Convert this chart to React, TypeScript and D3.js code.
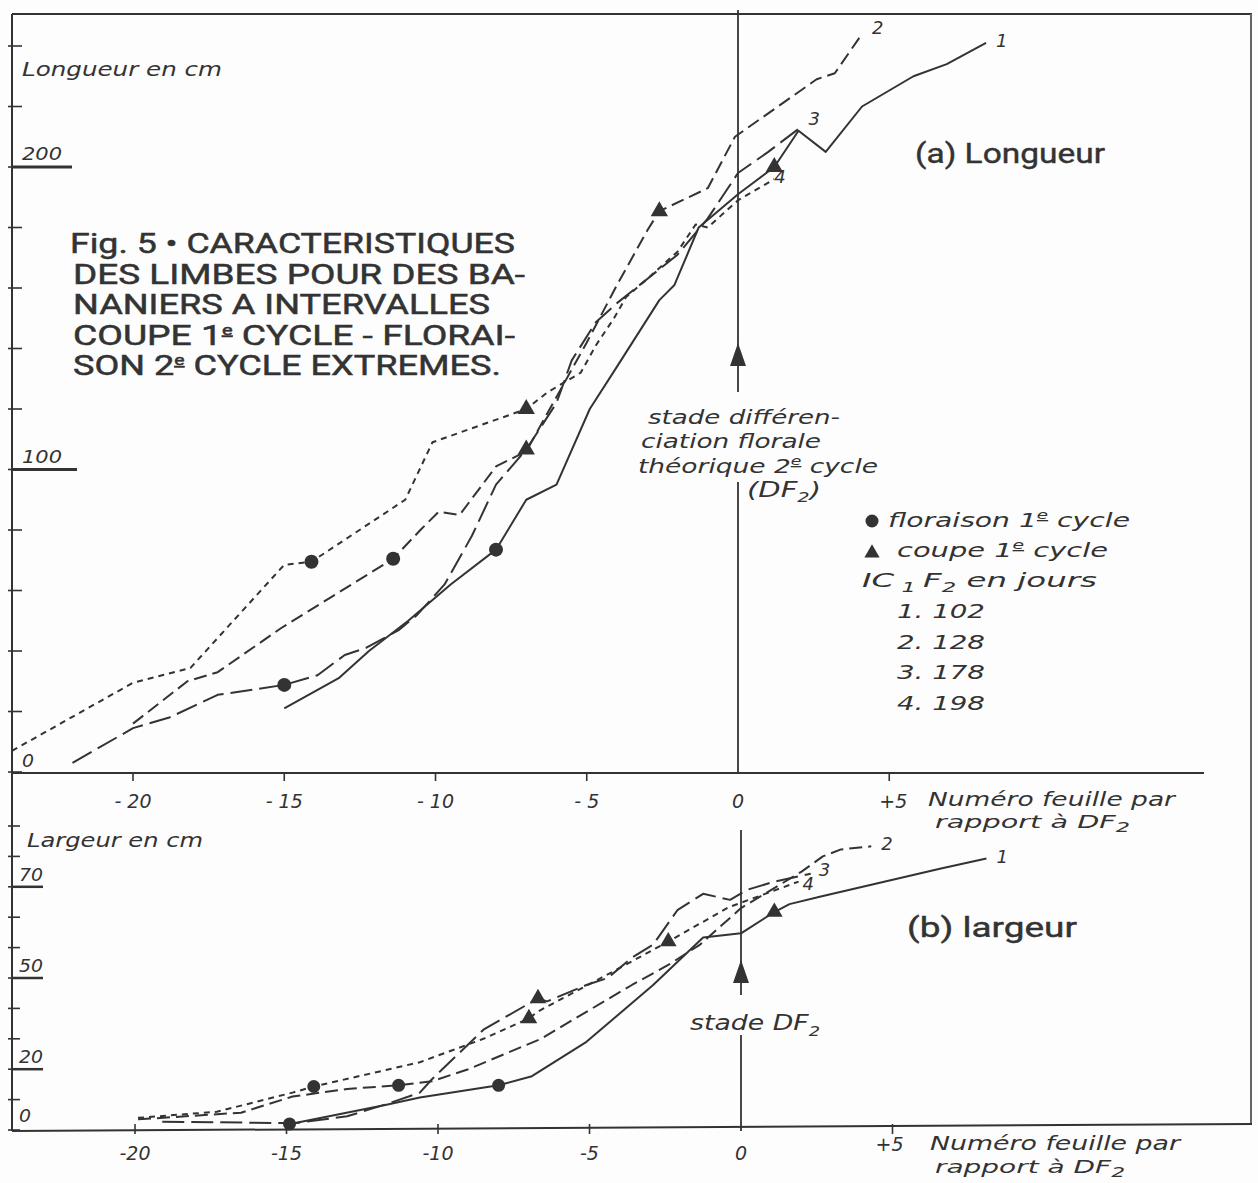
import React from 'react';
import * as d3 from 'd3';

// leaf number relative to DF2 -> length (cm), one array per curve
const longueur1 = [[-15, 21], [-13.2, 31], [-12.2, 40], [-10.9, 50], [-9.5, 62], [-8, 73.5], [-7, 90], [-6, 95], [-4.9, 120], [-4, 134], [-2.6, 156], [-2.1, 161], [-1.3, 180], [0, 191], [1.2, 200], [2, 212], [2.9, 205], [4.1, 220], [5.8, 230], [6.9, 234], [8.2, 241]];
const longueur2 = [[-20, 16], [-18.2, 30], [-17.2, 33], [-15.1, 47.6], [-11.4, 70.5], [-10.5, 80], [-9.9, 86], [-9.2, 85], [-8, 101], [-7, 106], [-6, 124], [-5, 142], [-4, 161], [-3, 179], [-2.6, 185.4], [-1, 193], [-0.1, 210], [2.6, 229], [3.2, 231], [4.1, 244]];
const longueur3 = [[-22, 3], [-20, 14.5], [-18.8, 18], [-17.2, 25.5], [-15, 28.8], [-13.9, 32], [-13, 38.7], [-12.3, 41], [-11.2, 47], [-10.6, 52], [-9.7, 62], [-8.8, 78], [-8, 95], [-7, 106.6], [-6, 122], [-5.5, 136], [-4.7, 148.7], [-4, 155], [-3, 163], [-2, 171], [-1, 183], [0, 198], [1, 205], [2, 212.6]];
const longueur4 = [[-24, 7], [-20, 29.5], [-18.1, 34.4], [-15, 68.5], [-14.1, 69.5], [-11, 90], [-10.1, 109], [-7, 120], [-6.3, 125.5], [-5.2, 132], [-4.7, 141], [-4.1, 150], [-3.7, 157], [-3, 163], [-2, 172], [-1.4, 181], [-1, 180], [0, 189], [1.2, 196]];

// leaf number -> width (cm)
const largeur1 = [[-15, 1.7], [-11.7, 8.3], [-10.6, 10.7], [-8, 14.7], [-6.9, 17.7], [-5.1, 29], [-2.9, 47.7], [-1.25, 63.3], [0, 64.7], [1.1, 71.7], [1.6, 74.3], [2.6, 76.7], [6.6, 86], [8.1, 89.3]];
const largeur2 = [[-19.9, 3.5], [-16.5, 5.7], [-14.8, 11], [-13, 13.5], [-11.3, 14.7], [-10.2, 16], [-9, 20], [-6.6, 30], [-5.3, 37.7], [-3.6, 47.7], [-2.4, 54.3], [-1.35, 61], [0, 73], [1, 79], [2, 85], [2.7, 90], [3.3, 92.3], [4.3, 93.3]];
const largeur3 = [[-19.1, 2.7], [-15.1, 2.3], [-14.9, 2], [-13, 4.5], [-11.7, 8.5], [-10.6, 12.3], [-10.2, 16.7], [-8.5, 33], [-6.7, 43.3], [-6.4, 42.3], [-5.1, 47.7], [-4.4, 50], [-3.6, 56.7], [-2.9, 61], [-2.1, 72.3], [-1.25, 77.7], [-0.8, 76.7], [-0.36, 75.7], [0.2, 79], [1.1, 81.7], [2.3, 84.3]];
const largeur4 = [[-19.9, 4], [-17.3, 6], [-14.8, 12.3], [-14.1, 14.3], [-10.6, 22.3], [-8.5, 30], [-7, 36.7], [-6.7, 39], [-4, 53.3], [-2.4, 62], [-0.4, 73.3], [1.9, 81.7]];

// markers: floraison 1er cycle (dots), coupe 1er cycle (triangles)
const floraisonLongueur = [[-8, 73.5], [-11.4, 70.5], [-15, 28.8], [-14.1, 69.5]];
const coupeLongueur = [[1.2, 200], [-2.6, 185.4], [-7, 106.6], [-7, 120]];
const floraisonLargeur = [[-8, 14.7], [-11.3, 14.7], [-14.9, 2], [-14.1, 14.3]];
const coupeLargeur = [[1.1, 71.7], [-2.4, 62], [-6.7, 43.3], [-7, 36.7]];

const curveNames = ['1', '2', '3', '4'];
const intervalles = ['102', '128', '178', '198'];
const xTicks = [-20, -15, -10, -5, 0, 5];
const yTicksLongueur = d3.range(0, 260, 20);
const yLabelsLongueur = [0, 100, 200];
const yTicksLargeur = d3.range(0, 110, 10);
const yLabelsLargeur = [[0, '0'], [20, '20'], [50, '50'], [80, '70']];
const titleLines = ['Fig. 5 • CARACTERISTIQUES', 'DES LIMBES POUR DES BA-', 'NANIERS A INTERVALLES', 'COUPE 1|e| CYCLE - FLORAI-', 'SON 2|e| CYCLE EXTREMES.'];
const titleWidths = [445, 452, 417, 442, 428];

const ink = '#333';
const hand = '"DejaVu Sans", sans-serif';
const sans = 'Roboto, "Liberation Sans", Arial, sans-serif';
const dashes = [null, '13 6', '22 7', '6 5'];

const xT = d3.scaleLinear().domain([-20, 0]).range([133, 738]);
const yT = d3.scaleLinear().domain([0, 200]).range([772, 167]);
const xB = d3.scaleLinear().domain([-20, 0]).range([135, 741]);
const yB = d3.scaleLinear().domain([0, 100]).range([1130, 826]);

const tri = d3.symbol(d3.symbolTriangle);

const Sup = ({ t, size, rise }) => {
  // "1|e|" -> 1 + small underlined e
  const parts = t.split('|');
  return (
    <>
      {parts.map((p, i) =>
        i % 2 === 1 ? (
          <tspan key={i} fontSize={size} dy={-rise} textDecoration="underline">{p}</tspan>
        ) : (
          <tspan key={i} dy={i > 0 ? rise : 0}>{p}</tspan>
        )
      )}
    </>
  );
};

const Hand = ({ x, y, w, size = 20, children }) => (
  <text x={x} y={y} textLength={w} lengthAdjust={w ? 'spacingAndGlyphs' : undefined} fontFamily={hand}
    fontStyle="italic" fontSize={size} fill={ink}>{children}</text>
);

const Panel = ({ x, y, curves, dots, tris, dotR, triSize }) => {
  const line = d3.line().x(d => x(d[0])).y(d => y(d[1]));
  return (
    <g>
      {curves.map((c, i) => (
        <path key={i} d={line(c)} fill="none" stroke={ink} strokeWidth={2}
          strokeDasharray={dashes[i] || undefined} strokeLinejoin="round" />
      ))}
      {dots.map((d, i) => <circle key={i} cx={x(d[0])} cy={y(d[1])} r={dotR} fill={ink} />)}
      {tris.map((d, i) => (
        <path key={i} d={tri.size(triSize)()} transform={`translate(${x(d[0])},${y(d[1])})`} fill={ink} />
      ))}
    </g>
  );
};

export default function App() {
  const x0T = xT(0), x0B = xB(0);
  const topCurves = [longueur1, longueur2, longueur3, longueur4];
  const botCurves = [largeur1, largeur2, largeur3, largeur4];
  const lastT = topCurves.map(c => c[c.length - 1]);
  const lastB = botCurves.map(c => c[c.length - 1]);
  const labelOffT = [[10, 4], [10, 0], [10, -4], [0, 4]];
  const labelOffB = [[10, 4], [10, 4], [8, 2], [4, 8]];
  const sub = (s, d = 5) => <tspan fontSize={14} dy={d}>{s}</tspan>;

  return (
    <svg width={1258} height={1183} style={{ position: 'absolute', left: 0, top: 0, background: '#fdfdfd' }}>
      {/* frame */}
      <g stroke={ink} fill="none">
        <line x1={12} y1={14} x2={1252} y2={14} strokeWidth={2} />
        <line x1={1251} y1={14} x2={1251} y2={1124} strokeWidth={2} stroke="#666" />
        <line x1={12} y1={14} x2={12} y2={1131} strokeWidth={2} />
        <line x1={12} y1={773} x2={1204} y2={773} strokeWidth={2} />
        <line x1={12} y1={1131} x2={1252} y2={1124} strokeWidth={2} />
      </g>

      {/* top y axis */}
      {yTicksLongueur.map(v => (
        <line key={v} x1={8} x2={22} y1={yT(v)} y2={yT(v)} stroke={ink} strokeWidth={1.6} />
      ))}
      {yLabelsLongueur.filter(v => v > 0).map(v => (
        <line key={v} x1={12} x2={v === 100 ? 77 : 72} y1={yT(v)} y2={yT(v)} stroke={ink} strokeWidth={3} />
      ))}
      {yLabelsLongueur.map(v => (
        <Hand key={v} x={22} y={v === 0 ? yT(v) - 5 : yT(v) - 7} w={v === 0 ? 12 : 40} size={18}>{v}</Hand>
      ))}
      <Hand x={22} y={76} w={200} size={20}>Longueur en cm</Hand>

      {/* bottom y axis */}
      {yTicksLargeur.map(v => (
        <line key={v} x1={8} x2={20} y1={yB(v)} y2={yB(v)} stroke={ink} strokeWidth={1.6} />
      ))}
      {yLabelsLargeur.filter(d => d[0] > 0).map(d => (
        <line key={d[0]} x1={12} x2={43} y1={yB(d[0])} y2={yB(d[0])} stroke={ink} strokeWidth={2.5} />
      ))}
      {yLabelsLargeur.map(d => (
        <Hand key={d[0]} x={19} y={yB(d[0]) - (d[0] === 0 ? 8 : 6)} w={d[0] === 0 ? 12 : 24} size={18}>{d[1]}</Hand>
      ))}
      <Hand x={27} y={847} w={176} size={20}>Largeur en cm</Hand>

      {/* x axes */}
      {xTicks.filter(v => v !== 0).map(v => (
        <g key={v}>
          <line x1={xT(v)} x2={xT(v)} y1={773} y2={781} stroke={ink} strokeWidth={1.6} />
          <line x1={xB(v)} x2={xB(v)} y1={1124} y2={1134} stroke={ink} strokeWidth={1.6} />
        </g>
      ))}
      {xTicks.map(v => (
        <g key={v} fontFamily={hand} fontStyle="italic" fontSize={19} fill={ink} textAnchor="middle">
          <text x={xT(v) + (v === 5 ? 4 : 0)} y={808}>{v > 0 ? '+' + v : v < 0 ? '- ' + -v : v}</text>
          <text x={xB(v) + (v === 5 ? -3 : 0)} y={v === 5 ? 1151 : 1160}>{v > 0 ? '+' + v : v < 0 ? '-' + -v : v}</text>
        </g>
      ))}
      <Hand x={928} y={806} w={247} size={19}>Numéro feuille par</Hand>
      <Hand x={935} y={828} w={195} size={18}>rapport à DF{sub('2', 4)}</Hand>
      <Hand x={930} y={1150} w={250} size={19}>Numéro feuille par</Hand>
      <Hand x={935} y={1173} w={190} size={18}>rapport à DF{sub('2', 4)}</Hand>

      {/* DF2 reference lines */}
      <g stroke={ink} strokeWidth={1.8}>
        <line x1={x0T} x2={x0T} y1={10} y2={392} />
        <line x1={x0T} x2={x0T} y1={482} y2={773} />
        <line x1={x0B} x2={x0B} y1={830} y2={995} />
        <line x1={x0B} x2={x0B} y1={1035} y2={1131} />
      </g>
      <path d={`M${x0T},343 L${x0T - 8},366 L${x0T + 8},366 Z`} fill={ink} />
      <path d={`M${x0B},960 L${x0B - 8},983 L${x0B + 8},983 Z`} fill={ink} />
      <Hand x={648} y={424} w={192}>stade différen-</Hand>
      <Hand x={641} y={448} w={180}>ciation florale</Hand>
      <Hand x={638} y={473} w={240}>théorique 2<tspan fontSize={13} dy={-8} textDecoration="underline">e</tspan><tspan dy={8}> cycle</tspan></Hand>
      <Hand x={747} y={497} w={74} size={21}>(DF{sub('2')}<tspan dy={-5}>)</tspan></Hand>
      <Hand x={690} y={1030} w={130} size={21}>stade DF{sub('2', 6)}</Hand>

      {/* title */}
      <g fontFamily={sans} fontWeight={400} fontSize={28} fill={ink} stroke={ink} strokeWidth={0.5}>
        {titleLines.map((t, i) => (
          <text key={i} x={i === 0 ? 70 : 73} y={253 + i * 30.5} textLength={titleWidths[i]} lengthAdjust="spacingAndGlyphs">
            <Sup t={t} size={15} rise={10} />
          </text>
        ))}
      </g>
      <g fontFamily={sans} fontWeight={400} fontSize={27} fill={ink} stroke={ink} strokeWidth={0.4}>
        <text x={915} y={163} textLength={190} lengthAdjust="spacingAndGlyphs">(a)  Longueur</text>
        <text x={907} y={937} textLength={170} lengthAdjust="spacingAndGlyphs">(b)  largeur</text>
      </g>

      {/* legend */}
      <circle cx={872} cy={521} r={6.5} fill={ink} />
      <Hand x={888} y={527} w={242}>floraison 1<tspan fontSize={13} dy={-8} textDecoration="underline">e</tspan><tspan dy={8}> cycle</tspan></Hand>
      <path d={tri.size(100)()} transform="translate(872,553)" fill={ink} />
      <Hand x={897} y={557} w={211}>coupe   1<tspan fontSize={13} dy={-8} textDecoration="underline">e</tspan><tspan dy={8}> cycle</tspan></Hand>
      <Hand x={862} y={587} w={235}>IC<tspan fontSize={14} dy={5}> 1 </tspan><tspan dy={-5}>F</tspan><tspan fontSize={14} dy={5}>2</tspan><tspan dy={-5}> en jours</tspan></Hand>
      {intervalles.map((v, i) => (
        <Hand key={v} x={897} y={618 + i * 30.5} w={88}>{curveNames[i]}.  {v}</Hand>
      ))}

      <Panel x={xT} y={yT} curves={topCurves} dots={floraisonLongueur} tris={coupeLongueur} dotR={7} triSize={130} />
      <Panel x={xB} y={yB} curves={botCurves} dots={floraisonLargeur} tris={coupeLargeur} dotR={6.5} triSize={120} />

      <g fontFamily={hand} fontStyle="italic" fontSize={18} fill={ink}>
        {lastT.map((d, i) => (
          <text key={i} x={xT(d[0]) + labelOffT[i][0]} y={yT(d[1]) + labelOffT[i][1]}>{curveNames[i]}</text>
        ))}
        {lastB.map((d, i) => (
          <text key={i} x={xB(d[0]) + labelOffB[i][0]} y={yB(d[1]) + labelOffB[i][1]}>{curveNames[i]}</text>
        ))}
      </g>
    </svg>
  );
}
